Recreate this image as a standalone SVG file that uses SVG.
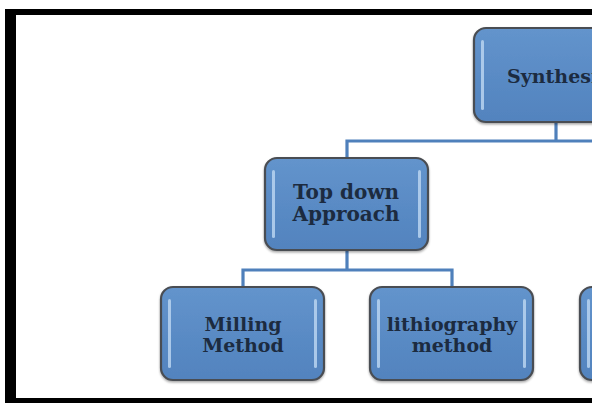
<svg xmlns="http://www.w3.org/2000/svg" width="592" height="403" viewBox="0 0 592 403">
  <defs>
    <linearGradient id="boxFill" x1="0" y1="0" x2="0" y2="1">
      <stop offset="0" stop-color="#6394cc"/>
      <stop offset="0.5" stop-color="#5a8bc5"/>
      <stop offset="1" stop-color="#5283be"/>
    </linearGradient>
    <filter id="shadow" x="-10%" y="-10%" width="120%" height="130%">
      <feDropShadow dx="0" dy="1.5" stdDeviation="1.2" flood-color="#000" flood-opacity="0.35"/>
    </filter>
  </defs>
  <style>
    .box { fill: url(#boxFill); stroke: #4a4d52; stroke-width: 2.2; filter: url(#shadow); }
    .hl { fill: #b9d3f0; opacity: 0.85; }
    .lbl { font-family: "DejaVu Serif", "Liberation Serif", serif; font-weight: bold; fill: #1c2b40; text-anchor: middle; }
    .conn { fill: none; stroke: #4f80bb; stroke-width: 3.2; }
    .frame { fill: #000; }
  </style>
  <rect x="0" y="0" width="592" height="403" fill="#ffffff"/>

  <g id="frame">
    <rect class="frame" x="5" y="9" width="587" height="6"/>
    <rect class="frame" x="5" y="9" width="11" height="394"/>
    <rect class="frame" x="5" y="398" width="587" height="5"/>
  </g>

  <g id="connectors">
    <path class="conn" d="M556 122 V141"/>
    <path class="conn" d="M592 141 H347 V158"/>
    <path class="conn" d="M347 250 V270"/>
    <path class="conn" d="M243 287 V270 H452 V287"/>
  </g>

  <g id="synthesis">
    <rect class="box" x="474" y="28" width="200" height="94" rx="12"/>
    <rect class="hl" x="481" y="40" width="3" height="70" rx="1.5"/>
    <text class="lbl" x="507" y="83" font-size="19" style="text-anchor:start">Synthesis</text>
  </g>

  <g id="top-down">
    <rect class="box" x="265" y="158" width="163" height="92" rx="12"/>
    <rect class="hl" x="272" y="170" width="3" height="68" rx="1.5"/>
    <rect class="hl" x="418" y="170" width="3" height="68" rx="1.5"/>
    <text class="lbl" x="346" y="199" font-size="20">Top down</text>
    <text class="lbl" x="346" y="221" font-size="20">Approach</text>
  </g>

  <g id="milling">
    <rect class="box" x="161" y="287" width="163" height="93" rx="12"/>
    <rect class="hl" x="168" y="299" width="3" height="69" rx="1.5"/>
    <rect class="hl" x="314" y="299" width="3" height="69" rx="1.5"/>
    <text class="lbl" x="243" y="331" font-size="19">Milling</text>
    <text class="lbl" x="243" y="352" font-size="19">Method</text>
  </g>

  <g id="lithiography">
    <rect class="box" x="370" y="287" width="163" height="93" rx="12"/>
    <rect class="hl" x="377" y="299" width="3" height="69" rx="1.5"/>
    <rect class="hl" x="523" y="299" width="3" height="69" rx="1.5"/>
    <text class="lbl" x="452" y="331" font-size="19">lithiography</text>
    <text class="lbl" x="452" y="352" font-size="19">method</text>
  </g>

  <g id="third-node">
    <rect class="box" x="580" y="287" width="163" height="93" rx="12"/>
    <rect class="hl" x="587" y="299" width="3" height="69" rx="1.5"/>
  </g>
</svg>
